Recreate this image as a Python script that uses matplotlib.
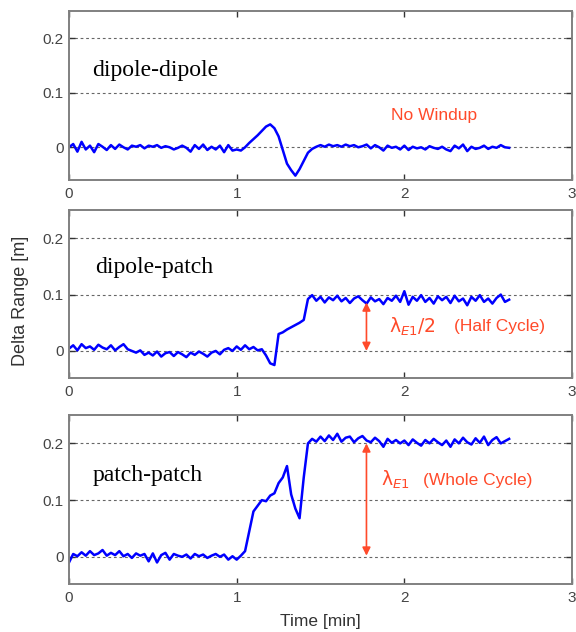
import numpy as np
import matplotlib
matplotlib.use("Agg")
import matplotlib.pyplot as plt

# time axis [min], one sample every 0.025 min
dt = 0.025

dipole_dipole = [
    0.000, 0.006, -0.008, 0.010, -0.004, 0.003, -0.009, 0.006, 0.001, -0.005,
    0.004, -0.003, 0.005, 0.000, -0.004, 0.003, 0.001, 0.004, -0.002, 0.003,
    0.001, 0.004, -0.001, 0.002, 0.000, -0.004, -0.001, 0.003, -0.001, -0.008,
    0.004, -0.003, 0.005, -0.005, 0.001, -0.004, 0.003, -0.009, 0.004, -0.006,
    -0.004, -0.006, 0.000, 0.008, 0.015, 0.022, 0.030, 0.038, 0.042, 0.035,
    0.020, -0.005, -0.030, -0.042, -0.052, -0.040, -0.025, -0.010, -0.003, 0.001,
    0.004, 0.001, 0.005, 0.002, 0.004, 0.001, 0.005, 0.002, 0.004, 0.000,
    0.002, 0.005, -0.002, 0.004, 0.000, -0.006, 0.003, -0.001, 0.001, -0.004,
    0.003, -0.005, 0.001, -0.002, 0.000, -0.004, 0.002, -0.001, -0.003, 0.001,
    -0.004, -0.007, 0.003, -0.002, 0.005, -0.007, 0.001, -0.003, -0.001, 0.003,
    -0.003, 0.001, -0.001, 0.004, 0.000, -0.001,
]

dipole_patch = [
    0.004, 0.010, 0.001, 0.012, 0.005, 0.008, 0.002, 0.011, 0.006, 0.003,
    0.010, 0.001, 0.007, 0.012, 0.003, 0.000, -0.003, 0.001, -0.007, -0.003,
    -0.008, -0.001, -0.010, -0.004, -0.002, -0.009, -0.002, -0.006, -0.011, -0.003,
    -0.007, -0.001, -0.005, -0.010, -0.003, 0.000, -0.006, 0.002, 0.005, 0.000,
    0.008, 0.002, 0.010, 0.003, 0.007, 0.001, 0.003, -0.008, -0.022, -0.025,
    0.030, 0.033, 0.038, 0.042, 0.046, 0.050, 0.055, 0.092, 0.099, 0.089,
    0.096, 0.086, 0.095, 0.090, 0.098, 0.088, 0.094, 0.085, 0.093, 0.097,
    0.090, 0.084, 0.095, 0.088, 0.092, 0.083, 0.094, 0.089, 0.098, 0.087,
    0.106, 0.082, 0.096, 0.089, 0.099, 0.087, 0.094, 0.084, 0.097, 0.090,
    0.096, 0.085, 0.098, 0.088, 0.093, 0.081, 0.096, 0.089, 0.099, 0.087,
    0.093, 0.084, 0.094, 0.100, 0.087, 0.091,
]

patch_patch = [
    -0.010, 0.005, 0.001, 0.008, 0.002, 0.010, 0.003, 0.006, 0.012, 0.002,
    0.007, 0.003, 0.010, 0.001, 0.005, -0.002, 0.006, 0.002, 0.005, -0.008,
    0.006, -0.010, 0.003, 0.007, -0.005, 0.005, 0.002, 0.000, 0.004, -0.003,
    0.005, 0.001, 0.004, -0.002, 0.002, 0.005, 0.000, 0.004, -0.005, 0.001,
    -0.005, 0.002, 0.010, 0.045, 0.080, 0.090, 0.100, 0.098, 0.108, 0.112,
    0.130, 0.140, 0.160, 0.110, 0.085, 0.068, 0.140, 0.200, 0.208, 0.203,
    0.212, 0.204, 0.214, 0.206, 0.217, 0.203, 0.210, 0.212, 0.202, 0.209,
    0.213, 0.205, 0.202, 0.210, 0.204, 0.194, 0.208, 0.201, 0.206, 0.200,
    0.205, 0.197, 0.207, 0.201, 0.196, 0.206, 0.200, 0.208, 0.202, 0.197,
    0.205, 0.194, 0.207, 0.200, 0.210, 0.202, 0.198, 0.209, 0.201, 0.212,
    0.197, 0.206, 0.211, 0.200, 0.204, 0.208,
]

labels = ["dipole-dipole", "dipole-patch", "patch-patch"]
series = [dipole_dipole, dipole_patch, patch_patch]
ylims = [(-0.06, 0.25), (-0.048, 0.25), (-0.048, 0.25)]
label_pos = [(0.14, 0.14), (0.155, 0.148), (0.143, 0.144)]

xticks = [0, 1, 2, 3]
yticks = [0, 0.1, 0.2]
ytick_labels = ["0", "0.1", "0.2"]

red = "#ff4a2a"
gray = "#808080"
sans = ["Liberation Sans", "DejaVu Sans"]

fig = plt.figure(figsize=(5.76, 6.32), dpi=100)
boxes = [
    [0.1198, 0.7152, 0.8733, 0.2674],
    [0.1198, 0.4019, 0.8733, 0.2658],
    [0.1198, 0.0759, 0.8733, 0.2674],
]

axes = []
for i in range(3):
    ax = fig.add_axes(boxes[i])
    y = np.array(series[i])
    t = np.arange(len(y)) * dt
    ax.plot(t, y, color="#0000ff", lw=1.8)
    ax.set_xlim(0, 3)
    ax.set_ylim(*ylims[i])
    ax.set_xticks(xticks)
    ax.set_xticklabels([str(v) for v in xticks], fontfamily=sans, fontsize=11, color="#444444")
    ax.set_yticks(yticks)
    ax.set_yticklabels(ytick_labels, fontfamily=sans, fontsize=11, color="#444444")
    ax.tick_params(direction="in", top=True, right=True, length=4, width=1, color="#333333")
    ax.tick_params(axis="x", pad=5)
    ax.tick_params(axis="y", pad=4)
    for v in yticks:
        ax.axhline(v, color="#666666", lw=0.8, ls=(0, (2.5, 2.5)), zorder=0)
    for s in ax.spines.values():
        s.set_color(gray)
        s.set_linewidth(1.4)
    ax.text(label_pos[i][0], label_pos[i][1], labels[i], fontfamily=["Liberation Serif", "DejaVu Serif"],
            fontsize=17, va="center", ha="left")
    axes.append(ax)

# annotations
axes[0].text(2.18, 0.058, "No Windup", color=red, fontfamily=sans, fontsize=12.5, ha="center", va="center")

axes[1].annotate("", xy=(1.774, 0.086), xytext=(1.774, 0.0),
                 arrowprops=dict(arrowstyle="<|-|>", color=red, lw=1.2, mutation_scale=12,
                                 shrinkA=0, shrinkB=0))
axes[1].text(1.91, 0.043, r"$\mathrm{\lambda}_{E1}/2$", color=red, fontsize=13.5, ha="left", va="center")
axes[1].text(2.565, 0.043, "(Half Cycle)", color=red, fontfamily=sans, fontsize=12.5, ha="center", va="center")

axes[2].annotate("", xy=(1.774, 0.2), xytext=(1.774, 0.002),
                 arrowprops=dict(arrowstyle="<|-|>", color=red, lw=1.2, mutation_scale=12,
                                 shrinkA=0, shrinkB=0))
axes[2].text(1.86, 0.135, r"$\mathrm{\lambda}_{E1}$", color=red, fontsize=13.5, ha="left", va="center")
axes[2].text(2.435, 0.135, "(Whole Cycle)", color=red, fontfamily=sans, fontsize=12.5, ha="center", va="center")

fig.text(0.035, 0.524, "Delta Range [m]", rotation=90, fontfamily=sans, fontsize=13,
         color="#333333", ha="center", va="center")
fig.text(0.556, 0.016, "Time [min]", fontfamily=sans, fontsize=12.5, color="#333333",
         ha="center", va="center")

fig.savefig("out.png", dpi=100)
